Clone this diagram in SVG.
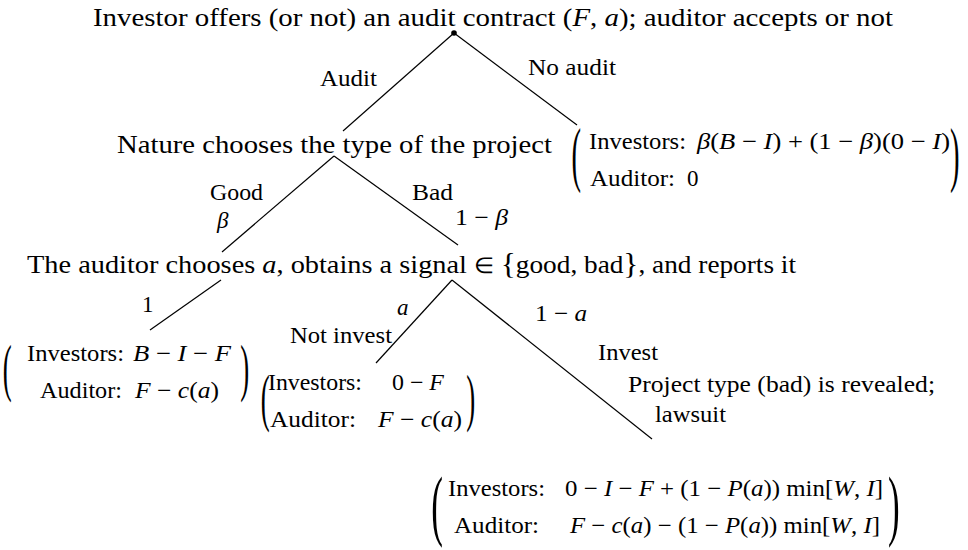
<svg xmlns="http://www.w3.org/2000/svg" width="968" height="550" viewBox="0 0 968 550">
<style>
.n{font-size:26px}
.s{font-size:23px}
.i{font-style:italic}
.edge{stroke:#000;stroke-width:1.2;fill:none}
.par{font-size:64px}
</style>
<rect x="0" y="0" width="968" height="550" fill="#fff"/>

<g id="connectors">
  <line class="edge" x1="454" y1="33" x2="343" y2="131"/>
  <line class="edge" x1="454" y1="33" x2="577" y2="125"/>
  <line class="edge" x1="334" y1="156" x2="222" y2="252"/>
  <line class="edge" x1="334" y1="156" x2="458" y2="245"/>
  <line class="edge" x1="221" y1="280" x2="150" y2="330"/>
  <line class="edge" x1="452" y1="280" x2="376" y2="363"/>
  <line class="edge" x1="452" y1="280" x2="652" y2="439"/>
</g>

<g font-family="Liberation Serif" fill="#000">
<g id="edge-labels">
  <text class="s" x="320" y="86" textLength="57" lengthAdjust="spacingAndGlyphs">Audit</text>
  <text class="s" x="528" y="75" textLength="88" lengthAdjust="spacingAndGlyphs">No audit</text>
  <text class="s" x="210" y="200" textLength="53" lengthAdjust="spacingAndGlyphs">Good</text>
  <text class="s i" x="217" y="228">β</text>
  <text class="s" x="412" y="200" textLength="41" lengthAdjust="spacingAndGlyphs">Bad</text>
  <text class="s" x="455" y="225" textLength="53" lengthAdjust="spacingAndGlyphs">1 − <tspan class="i">β</tspan></text>
  <text class="s" x="142" y="312">1</text>
  <text class="s i" x="397" y="315">a</text>
  <text class="s" x="290" y="343" textLength="102" lengthAdjust="spacingAndGlyphs">Not invest</text>
  <text class="s" x="535" y="321" textLength="52" lengthAdjust="spacingAndGlyphs">1 − <tspan class="i">a</tspan></text>
  <text class="s" x="598" y="360" textLength="60" lengthAdjust="spacingAndGlyphs">Invest</text>
  <text class="s" x="628" y="392" textLength="307" lengthAdjust="spacingAndGlyphs">Project type (bad) is revealed;</text>
  <text class="s" x="655" y="422" textLength="71" lengthAdjust="spacingAndGlyphs">lawsuit</text>
</g>

<g id="root">
  <circle cx="454" cy="33" r="2.8" fill="#000"/>
  <text class="n" x="93" y="26" textLength="800" lengthAdjust="spacingAndGlyphs">Investor offers (or not) an audit contract (<tspan class="i">F</tspan>, <tspan class="i">a</tspan>); auditor accepts or not</text>
</g>

<g id="nature">
  <text class="n" x="117" y="153" textLength="435" lengthAdjust="spacingAndGlyphs">Nature chooses the type of the project</text>
</g>

<g id="payoff-noaudit">
  <text class="par" transform="translate(571.5,178.3) scale(0.44,1.1)" style="font-size:65px">(</text>
  <text class="s" x="589" y="149" textLength="97" lengthAdjust="spacingAndGlyphs">Investors:</text>
  <text class="s" x="697" y="149" textLength="253" lengthAdjust="spacingAndGlyphs"><tspan class="i">β</tspan>(<tspan class="i">B</tspan> − <tspan class="i">I</tspan>) + (1 − <tspan class="i">β</tspan>)(0 − <tspan class="i">I</tspan>)</text>
  <text class="s" x="590" y="186" textLength="85" lengthAdjust="spacingAndGlyphs">Auditor:</text>
  <text class="s" x="687" y="186">0</text>
  <text class="par" transform="translate(950,178.3) scale(0.44,1.1)" style="font-size:65px">)</text>
</g>

<g id="auditor">
  <text class="n" x="27" y="273" textLength="440" lengthAdjust="spacingAndGlyphs">The auditor chooses <tspan class="i">a</tspan>, obtains a signal</text>
  <text class="n" x="474" y="273" textLength="322" lengthAdjust="spacingAndGlyphs"><tspan style="font-size:22px">∈</tspan> <tspan style="font-size:30px">{</tspan>good, bad<tspan style="font-size:30px">}</tspan>, and reports it</text>
</g>

<g id="payoff-good">
  <text class="par" transform="translate(2.7,388.6) scale(0.42,1)">(</text>
  <text class="s" x="27" y="361" textLength="97" lengthAdjust="spacingAndGlyphs">Investors:</text>
  <text class="s" x="133" y="361" textLength="98" lengthAdjust="spacingAndGlyphs"><tspan class="i">B</tspan> − <tspan class="i">I</tspan> − <tspan class="i">F</tspan></text>
  <text class="s" x="40" y="398" textLength="82" lengthAdjust="spacingAndGlyphs">Auditor:</text>
  <text class="s" x="135" y="398" textLength="84" lengthAdjust="spacingAndGlyphs"><tspan class="i">F</tspan> − <tspan class="i">c</tspan>(<tspan class="i">a</tspan>)</text>
  <text class="par" transform="translate(240.2,388.6) scale(0.42,1)">)</text>
</g>

<g id="payoff-notinvest">
  <text class="par" transform="translate(260.7,418.6) scale(0.42,1)">(</text>
  <text class="s" x="268" y="390" textLength="94" lengthAdjust="spacingAndGlyphs">Investors:</text>
  <text class="s" x="392" y="390" textLength="52" lengthAdjust="spacingAndGlyphs">0 − <tspan class="i">F</tspan></text>
  <text class="s" x="270" y="427" textLength="86" lengthAdjust="spacingAndGlyphs">Auditor:</text>
  <text class="s" x="378" y="427" textLength="84" lengthAdjust="spacingAndGlyphs"><tspan class="i">F</tspan> − <tspan class="i">c</tspan>(<tspan class="i">a</tspan>)</text>
  <text class="par" transform="translate(466.2,418.6) scale(0.42,1)">)</text>
</g>

<g id="payoff-invest">
  <text class="par" transform="translate(431.3,531.1) scale(0.45,1)" style="font-size:78px">(</text>
  <text class="s" x="448" y="496" textLength="97" lengthAdjust="spacingAndGlyphs">Investors:</text>
  <text class="s" x="565" y="496" textLength="318" lengthAdjust="spacingAndGlyphs">0 − <tspan class="i">I</tspan> − <tspan class="i">F</tspan> + (1 − <tspan class="i">P</tspan>(<tspan class="i">a</tspan>)) min[<tspan class="i">W</tspan>, <tspan class="i">I</tspan>]</text>
  <text class="s" x="454" y="533" textLength="85" lengthAdjust="spacingAndGlyphs">Auditor:</text>
  <text class="s" x="570" y="533" textLength="310" lengthAdjust="spacingAndGlyphs"><tspan class="i">F</tspan> − <tspan class="i">c</tspan>(<tspan class="i">a</tspan>) − (1 − <tspan class="i">P</tspan>(<tspan class="i">a</tspan>)) min[<tspan class="i">W</tspan>, <tspan class="i">I</tspan>]</text>
  <text class="par" transform="translate(888,531.1) scale(0.45,1)" style="font-size:78px">)</text>
</g>
</g>
</svg>
